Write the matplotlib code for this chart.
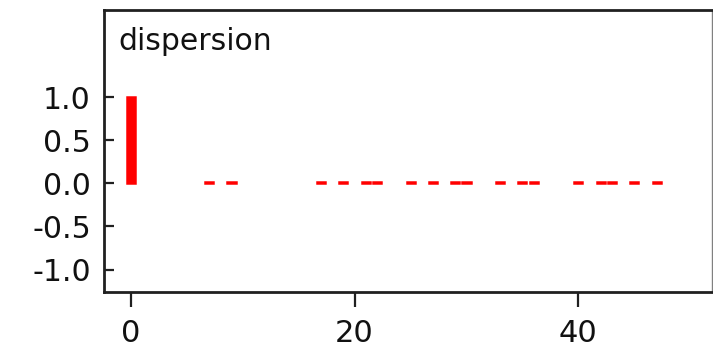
import matplotlib
matplotlib.use("Agg")
import matplotlib.pyplot as plt

# data
lags = [0, 7, 9, 17, 19, 21, 22, 25, 27, 29, 30, 33, 35, 36, 40, 42, 43, 45, 47]
values = [1.0, 0.01, 0.01, 0.01, 0.01, 0.01, 0.01, 0.01, 0.01, 0.01, 0.01,
          0.01, 0.01, 0.01, 0.01, 0.01, 0.01, 0.01, 0.01]
x_ticks = [0, 20, 40]
y_ticks = [-1.0, -0.5, 0.0, 0.5, 1.0]
y_tick_labels = ["-1.0", "-0.5", "0.0", "0.5", "1.0"]
title = "dispersion"

fig = plt.figure(figsize=(7.13, 3.54), dpi=100)
ax = fig.add_axes([0.1459, 0.176, 0.998 - 0.1459, 0.973 - 0.176])

ax.bar(lags, values, width=0.72, color="#ff0000", edgecolor="#ff0000",
       linewidth=1.8, align="center")

ax.set_xlim(-2.39, 51.9)
ax.set_ylim(-1.257, 2.016)

ax.set_xticks(x_ticks)
ax.set_xticklabels([str(t) for t in x_ticks], family="DejaVu Sans", fontsize=22)
ax.set_yticks(y_ticks)
ax.set_yticklabels(y_tick_labels, family="DejaVu Sans", fontsize=21.5)

ax.tick_params(axis="x", direction="out", length=10.8, width=1.6,
               pad=9.0, color="#202020", labelcolor="#111111")
ax.tick_params(axis="y", direction="in", length=7.2, width=1.6,
               pad=9.5, color="#202020", labelcolor="#111111")

for side in ["left", "bottom", "top"]:
    ax.spines[side].set_color("#202020")
    ax.spines[side].set_linewidth(2.0)
ax.spines["right"].set_color("#808080")
ax.spines["right"].set_linewidth(1.0)

ax.text(118 / 713, 1 - 50 / 354, title, transform=fig.transFigure,
        fontsize=21.5, family="DejaVu Sans", color="#111111",
        ha="left", va="baseline")

fig.savefig("out.png", dpi=100, facecolor="white")
